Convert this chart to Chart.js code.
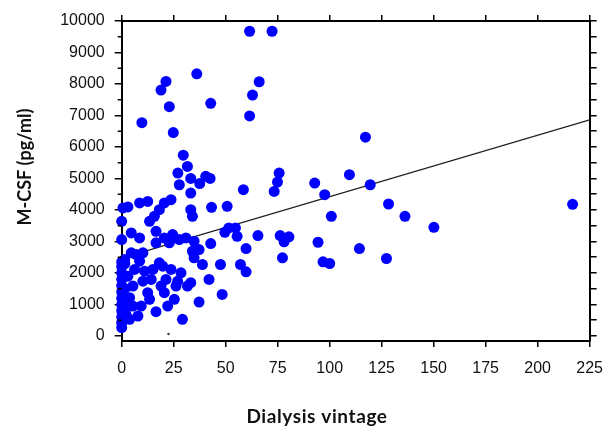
<!DOCTYPE html>
<html>
<head>
<meta charset="utf-8">
<script src="https://cdn.jsdelivr.net/npm/chart.js@4.4.1/dist/chart.umd.min.js"></script>
<style>
  html, body { margin: 0; padding: 0; background: #fff; }
  #wrap { width: 615px; height: 426px; }
</style>
</head>
<body>
<div id="wrap"><canvas id="c" width="615" height="426"></canvas></div>
<script>
// Dialysis vintage (months) for each patient
const vintage = [
  61.5, 72.3, 36.1, 21.3, 66.1, 18.9, 62.9, 42.8, 22.9, 61.5, 9.7, 24.8, 117.2,
  29.6, 31.6, 27.0, 75.7, 109.5, 33.2, 37.5, 40.4, 42.5, 74.9, 92.8, 119.5, 27.7,
  58.5, 73.3, 33.2, 97.6, 128.3, 216.8,
  0.6, 3.0, 8.6, 12.5, 20.5, 23.7, 18.1, 15.7, 13.4, 0.0, 33.2, 34.0, 43.2, 50.7,
  100.8, 136.2, 150.1,
  51.5, 54.7, 49.6, 55.5, 65.5, 76.2, 80.4, 78.1, 94.4, 114.3, 59.8, 77.3, 96.8,
  100.0, 127.3, 57.1, 59.8,
  0.0, 4.6, 8.6, 16.5, 20.5, 24.5, 27.7, 30.9, 34.8, 42.8, 37.2, 22.9, 16.5,
  7.0, 10.2, 4.6, 1.4, 8.6, 34.0, 34.8, 38.8, 47.5,
  42.0, 48.3, 37.2, 29.2, 28.5, 26.9, 31.6, 26.1, 23.7, 19.7, 21.3, 15.0, 14.2,
  18.1, 20.5, 13.4, 16.5, 7.8, 5.4, 3.8, 5.4, 3.0, 6.2, 11.0, 10.2, 12.5, 25.3,
  22.1, 33.2, 18.9, 9.4, 3.8, 0.0,
  0.0, 0.0, 0.0, 0.0, 0.0, 0.0, 0.0, 0.0, 0.0, 0.0, 0.0,
  1.5, 1.5, 1.5, 2.0, 1.0
];

// Serum M-CSF (pg/ml), same order as vintage
const mcsf = [
  9675, 9675, 8324, 8083, 8071, 7808, 7650, 7387, 7280, 6985, 6773, 6457, 6311,
  5741, 5381, 5172, 5172, 5120, 5000, 4840, 5070, 5000, 4887, 4855, 4801, 4801,
  4643, 4589, 4538, 4485, 4190, 4180,
  4064, 4096, 4222, 4273, 4222, 4327, 4010, 3798, 3640, 3640, 4010, 3798, 4083, 4115,
  3798, 3798, 3450,
  3431, 3431, 3292, 3165, 3187, 3187, 3146, 2988, 2975, 2776, 2776, 2480, 2355,
  2301, 2459, 2269, 2038,
  3060, 3272, 3114, 3323, 3114, 3219, 3060, 3114, 3007, 2934, 2744, 2956, 2956,
  2586, 2640, 2640, 2427, 2374, 2690, 2481, 2269, 2269,
  1795, 1320, 1076, 528, 2006, 1741, 1583, 1583, 2111, 2216, 1795, 2111, 1795,
  2323, 1374, 1162, 770, 633, 950, 1215, 1583, 1899, 2111, 2057, 1741, 1374, 1162,
  950, 1690, 1583, 950, 528, 266,
  420, 2350, 2200, 2000, 1800, 1600, 1400, 1200, 1000, 800, 600,
  2300, 1500, 900, 700, 1100
];

// Least-squares fit line, end points
const fitVintage = [0, 225];
const fitMcsf = [2470, 6860];

// Small speck near the origin
const speckVintage = [22.5];
const speckMcsf = [63];

// Axis tick values
const xTicks = [0, 25, 50, 75, 100, 125, 150, 175, 200, 225];
const yTicks = [0, 1000, 2000, 3000, 4000, 5000, 6000, 7000, 8000, 9000, 10000];
const yMinorTicks = [500, 1500, 2500, 3500, 4500, 5500, 6500, 7500, 8500, 9500];
const yRightTicks = yTicks.concat(yMinorTicks).sort((a, b) => a - b);

const xTitle = 'Dialysis vintage';
const yTitle = 'M-CSF (pg/ml)';

const toPoints = (xs, ys) => xs.map((x, i) => ({ x: x, y: ys[i] }));

const AXIS = '#000';
const AXIS_W = 2;
const TICK_FONT = { family: '"Liberation Sans", Arial, sans-serif', size: 16 };
const Y_MIN = -160, Y_MAX = 10000, X_MIN = 0, X_MAX = 225;

// Short minor ticks on the left axis, and the two axis titles
const extrasPlugin = {
  id: 'extras',
  afterDraw(chart) {
    const ctx = chart.ctx;
    const area = chart.chartArea;
    const ys = chart.scales.y;
    ctx.save();
    ctx.fillStyle = AXIS;
    yMinorTicks.forEach(v => {
      const py = ys.getPixelForValue(v);
      ctx.fillRect(area.left - 4, py - 0.75, 4, 1.5);
    });
    ctx.restore();

    ctx.save();
    ctx.fillStyle = '#111';
    ctx.textAlign = 'center';
    ctx.textBaseline = 'alphabetic';
    ctx.font = 'bold 19px Lato, "Open Sans", sans-serif';
    ctx.letterSpacing = '0.6px';
    ctx.fillText(xTitle, 317, 423);
    ctx.font = 'bold 18px Lato, "Open Sans", sans-serif';
    ctx.letterSpacing = '0px';
    ctx.translate(31, 167);
    ctx.rotate(-Math.PI / 2);
    ctx.fillText(yTitle, 0, 0);
    ctx.restore();
  }
};

const frameGrid = (len) => ({
  display: true, drawOnChartArea: false, drawTicks: true, tickLength: len, color: AXIS, lineWidth: 1.5
});
const frameBorder = { display: true, color: AXIS, width: AXIS_W };

new Chart(document.getElementById('c'), {
  data: {
    datasets: [
      {
        type: 'scatter',
        data: toPoints(vintage, mcsf),
        backgroundColor: '#0000ff',
        borderColor: '#0000ff',
        borderWidth: 0,
        pointRadius: 5.5,
        pointStyle: 'circle',
        clip: false,
        order: 1
      },
      {
        type: 'scatter',
        data: toPoints(speckVintage, speckMcsf),
        backgroundColor: '#333',
        borderWidth: 0,
        pointRadius: 1.2,
        order: 1
      },
      {
        type: 'line',
        data: toPoints(fitVintage, fitMcsf),
        borderColor: '#222',
        borderWidth: 1.2,
        pointRadius: 0,
        fill: false,
        order: 2
      }
    ]
  },
  options: {
    responsive: false,
    animation: false,
    devicePixelRatio: 1,
    layout: { padding: { top: 15, right: 13, left: 0, bottom: 0 } },
    plugins: {
      legend: { display: false },
      tooltip: { enabled: false },
      title: { display: false }
    },
    scales: {
      x: {
        type: 'linear',
        position: 'bottom',
        min: X_MIN,
        max: X_MAX,
        afterBuildTicks: s => { s.ticks = xTicks.map(v => ({ value: v })); },
        afterFit: s => { s.height = 85; },
        grid: frameGrid(6),
        border: frameBorder,
        ticks: {
          color: '#111',
          font: TICK_FONT,
          padding: 12,
          maxRotation: 0,
          autoSkip: false,
          callback: v => String(v)
        }
      },
      x2: {
        type: 'linear',
        position: 'top',
        min: X_MIN,
        max: X_MAX,
        afterBuildTicks: s => { s.ticks = xTicks.map(v => ({ value: v })); },
        afterFit: s => { s.height = 6; },
        grid: frameGrid(6),
        border: frameBorder,
        ticks: { display: false }
      },
      y: {
        type: 'linear',
        position: 'left',
        min: Y_MIN,
        max: Y_MAX,
        afterBuildTicks: s => { s.ticks = yTicks.map(v => ({ value: v })); },
        afterFit: s => { s.width = 121.7; },
        grid: frameGrid(7),
        border: frameBorder,
        ticks: {
          color: '#111',
          font: TICK_FONT,
          padding: 10,
          autoSkip: false,
          callback: v => String(v)
        }
      },
      y2: {
        type: 'linear',
        position: 'right',
        min: Y_MIN,
        max: Y_MAX,
        afterBuildTicks: s => { s.ticks = yRightTicks.map(v => ({ value: v })); },
        afterFit: s => { s.width = 7; },
        grid: frameGrid(7),
        border: frameBorder,
        ticks: { display: false }
      }
    }
  },
  plugins: [extrasPlugin]
});
</script>
</body>
</html>
